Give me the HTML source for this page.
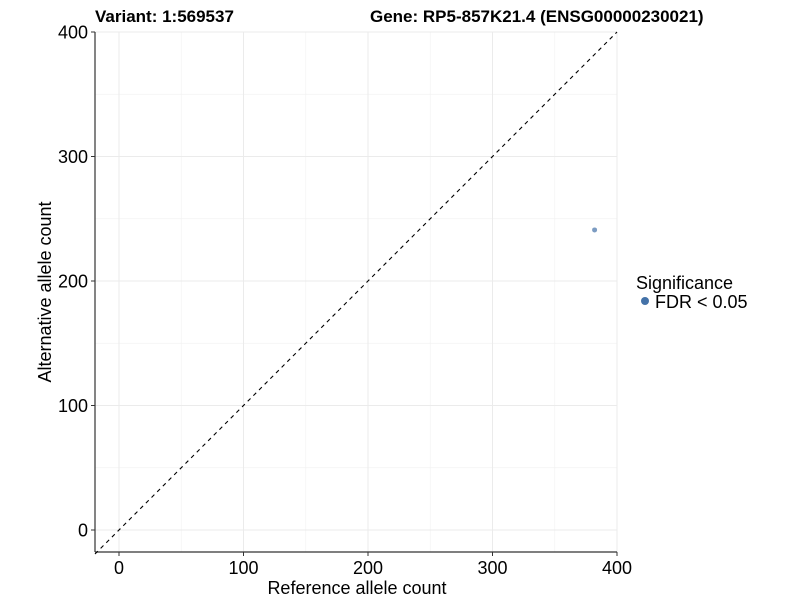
<!DOCTYPE html>
<html><head><meta charset="utf-8"><style>
body{margin:0;background:#fff;}
svg text{font-family:"Liberation Sans",Arial,sans-serif;}
</style></head><body>
<svg width="800" height="600" viewBox="0 0 800 600">
<g id="grid"></g>
<line x1="95" y1="552" x2="95" y2="32" stroke="#333" stroke-width="1.2"/>
<line x1="95" y1="552" x2="617" y2="552" stroke="#333" stroke-width="1.2"/>
<g id="ticks"></g>
<line id="diag" stroke="#000" stroke-width="1.1" stroke-dasharray="4,4"/>
<g id="points"></g>
<text x="95" y="22" font-size="17" font-weight="bold">Variant: 1:569537</text>
<text x="370" y="22" font-size="17" font-weight="bold">Gene: RP5-857K21.4 (ENSG00000230021)</text>
<text x="357" y="594" font-size="18" text-anchor="middle">Reference allele count</text>
<text transform="translate(51,292) rotate(-90)" font-size="18" text-anchor="middle">Alternative allele count</text>
<text x="636" y="289" font-size="18">Significance</text>
<circle cx="645" cy="301" r="4" fill="#4472a8"/>
<text x="655" y="308" font-size="18">FDR &lt; 0.05</text>
</svg>
<script>
const refCounts=[382];
const altCounts=[241];
const majorTicks=[0,100,200,300,400];
const minorTicks=[50,150,250,350];
const xs=v=>119+v*1.245, ys=v=>530-v*1.245;
const NS="http://www.w3.org/2000/svg";
function mk(t,a,p){const e=document.createElementNS(NS,t);for(const k in a)e.setAttribute(k,a[k]);p.appendChild(e);return e;}
const g=document.getElementById('grid'),tk=document.getElementById('ticks');
minorTicks.forEach(v=>{
 let l=mk('line',{x1:xs(v),x2:xs(v),y1:32,y2:552,stroke:'#f2f2f2','stroke-width':0.7},g);
 
 
 l=mk('line',{x1:95,x2:617,y1:ys(v),y2:ys(v),stroke:'#f2f2f2','stroke-width':0.7},g);
 
 
});
majorTicks.forEach(v=>{
 let l=mk('line',{x1:xs(v),x2:xs(v),y1:32,y2:552,stroke:'#ebebeb','stroke-width':1},g);
 
 
 l=mk('line',{x1:95,x2:617,y1:ys(v),y2:ys(v),stroke:'#ebebeb','stroke-width':1},g);
 
 
 l=mk('line',{x1:xs(v),x2:xs(v),y1:552,y2:556,stroke:'#333'},tk);
 
 
 l=mk('line',{x1:91,x2:95,y1:ys(v),y2:ys(v),stroke:'#333'},tk);
 
 
 let t=mk('text',{x:xs(v),y:574,'font-size':18,'text-anchor':'middle',fill:'#000'},tk);t.textContent=v;
 
 
 t=mk('text',{x:88,y:ys(v)+6.5,'font-size':18,'text-anchor':'end',fill:'#000'},tk);t.textContent=v;
 
 
});
const d=document.getElementById('diag');
d.setAttribute('x1',xs(-19.3));d.setAttribute('y1',ys(-19.3));d.setAttribute('x2',xs(400));d.setAttribute('y2',ys(400));
const p=document.getElementById('points');
refCounts.forEach((r,i)=>{
 const c=mk('circle',{cx:xs(r),cy:ys(altCounts[i]),r:2.5,fill:'#4472a8','fill-opacity':0.7},p);
 
 
});
</script>
</body></html>
